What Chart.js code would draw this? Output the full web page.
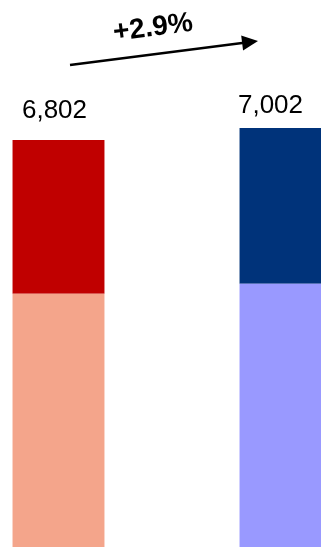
<!DOCTYPE html>
<html>
<head>
<meta charset="utf-8">
<script src="https://cdn.jsdelivr.net/npm/chart.js@4/dist/chart.umd.min.js"></script>
<style>
  html, body { margin: 0; padding: 0; background: #fff; }
  #wrap { position: relative; width: 321px; height: 547px; overflow: hidden; }
  #chart { position: absolute; left: -55px; top: 0; }
</style>
</head>
<body>
<div id="wrap"><canvas id="chart" width="454" height="547"></canvas></div>
<script>
// two periods, each split into a lower and an upper part
const periods = ['Before', 'After'];
const lowerValues = [4233, 4400];
const upperValues = [2569, 2602];
const totals = [6802, 7002];
const lowerColors = ['#F4A58B', '#9999FF'];
const upperColors = ['#C00000', '#00337A'];
const yMax = 9142;

const fmt = n => n.toLocaleString('en-US');

// totals above the bars and the growth arrow between them
const annotations = {
    id: 'annotations',
    afterDraw(chart) {
        const ctx = chart.ctx;
        const meta = chart.getDatasetMeta(1);
        const labelShift = [-4, -15];
        const labelGap = [22, 15];

        ctx.save();
        ctx.fillStyle = '#000';
        ctx.font = '26px "Liberation Sans", Arial, sans-serif';
        ctx.textAlign = 'center';
        ctx.textBaseline = 'alphabetic';
        meta.data.forEach((bar, i) => {
            ctx.fillText(fmt(totals[i]), bar.x + labelShift[i], bar.y - labelGap[i]);
        });

        // arrow
        const x0 = 125, y0 = 65, x1 = 313, y1 = 41;
        const ang = Math.atan2(y1 - y0, x1 - x0);
        ctx.strokeStyle = '#000';
        ctx.lineWidth = 2.5;
        ctx.beginPath();
        ctx.moveTo(x0, y0);
        ctx.lineTo(x1 - 14 * Math.cos(ang), y1 - 14 * Math.sin(ang));
        ctx.stroke();
        ctx.save();
        ctx.translate(x1, y1);
        ctx.rotate(ang);
        ctx.beginPath();
        ctx.moveTo(0, 0);
        ctx.lineTo(-16, -7.5);
        ctx.lineTo(-16, 7.5);
        ctx.closePath();
        ctx.fill();
        ctx.restore();

        // growth text
        const pct = (totals[1] / totals[0] - 1) * 100;
        ctx.translate(208, 28);
        ctx.rotate(ang);
        ctx.font = 'bold 28px "Liberation Sans", Arial, sans-serif';
        ctx.textBaseline = 'middle';
        ctx.fillText('+' + pct.toFixed(1) + '%', 0, 0);
        ctx.restore();
    }
};

new Chart(document.getElementById('chart'), {
    type: 'bar',
    data: {
        labels: periods,
        datasets: [
            { data: lowerValues, backgroundColor: lowerColors, borderWidth: 0 },
            { data: upperValues, backgroundColor: upperColors, borderWidth: 0 }
        ]
    },
    options: {
        responsive: false,
        animation: false,
        layout: { padding: 0 },
        barPercentage: 0.405,
        categoryPercentage: 1,
        plugins: { legend: { display: false }, tooltip: { enabled: false } },
        scales: {
            x: { stacked: true, display: false },
            y: { stacked: true, display: false, min: 0, max: yMax }
        }
    },
    plugins: [annotations]
});
</script>
</body>
</html>
